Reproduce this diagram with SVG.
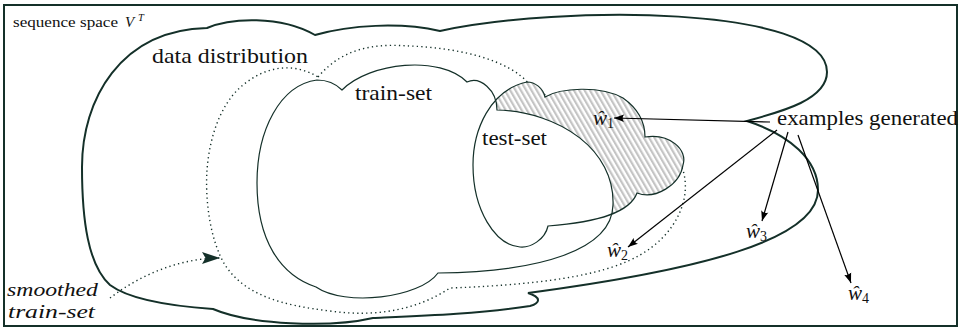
<svg xmlns="http://www.w3.org/2000/svg" width="961" height="329" viewBox="0 0 961 329">
<style>
.frame{fill:none;stroke:#143029;stroke-width:2}
.outer{fill:none;stroke:#143029;stroke-width:2}
.thin{stroke:#143029;stroke-width:1.2}
.dots{fill:none;stroke:#143029;stroke-width:1.4;stroke-dasharray:1.3 3.2}
.lbl{font-family:"Liberation Serif","Times New Roman",serif;font-size:21px;fill:#111}
.it{font-style:italic}
.sm{font-size:18px}
.sub{font-size:14px;font-style:normal}
.arr{fill:none;stroke:#000;stroke-width:1.2}
</style>
<defs>
<pattern id="hatch" patternUnits="userSpaceOnUse" width="4.6" height="10" patternTransform="rotate(-30)">
<rect width="4.6" height="10" fill="#fff"/>
<rect width="2.2" height="10" fill="#c4c4c4"/>
</pattern>
<marker id="ah" markerUnits="userSpaceOnUse" markerWidth="11" markerHeight="9" refX="10" refY="4.5" orient="auto">
<path d="M0,0.8 L10,4.5 L0,8.2 Q2.8,4.5 0,0.8 Z" fill="#000"/>
</marker>
<marker id="big" markerUnits="userSpaceOnUse" markerWidth="20" markerHeight="13" refX="18" refY="6.5" orient="auto">
<path d="M0,0.5 L18,6.5 L0,12.5 L3.5,6.5 Z" fill="#143029"/>
</marker>
</defs>
<rect width="961" height="329" fill="#fff"/>
<g id="frame"><rect class="frame" x="4" y="5" width="953" height="321"/></g>
<g id="sequence-space">
<path class="outer" d="M 440,31 C 560,5 827,5 827,72 C 827,100 780,112 747,121 C 790,135 818,160 818,190 C 818,240 700,270 528,293 C 541,297 541,303 530,306 C 480,314 420,316 373,318 C 330,328 250,325 213,309 C 170,306 130,300 110,285 C 88,265 82,220 82,167 C 82,100 120,30 207,28 C 230,18 280,15 315,35 C 350,25 400,22 440,31 Z"/>
</g>
<g id="data-distribution">
<path class="dots" d="M 318,77 C 345,45 380,44 410,46 C 460,48 510,60 530,85 C 560,110 660,130 683,170 C 692,200 675,235 640,255 C 610,272 560,284 450,288 C 420,308 380,318 330,311 C 280,305 245,295 225,265 C 210,240 205,200 207,170 C 210,130 225,95 250,80 C 270,66 295,63 318,77 Z"/>
</g>
<g id="test-set-fill">
<path fill="url(#hatch)" stroke="none" d="M 545,97 C 560,88 600,85 623,98 C 640,110 645,125 645,137 C 670,133 688,150 683,165 C 680,185 655,200 637,193 C 630,212 600,222 548,226 C 545,240 530,248 520,247 C 495,245 473,210 473,165 C 473,130 490,90 527,82 C 535,82 543,88 545,97 Z"/>
</g>
<g id="train-set">
<path class="thin" fill="#fff" d="M 342,90 C 370,62 440,55 467,82 C 480,76 497,90 497,110 C 560,112 615,150 613,205 C 612,250 540,272 438,273 C 420,298 345,307 316,287 C 280,275 257,240 257,183 C 257,130 280,85 317,80 C 327,80 335,83 342,90 Z"/>
</g>
<g id="test-set">
<path class="thin" fill="none" d="M 545,97 C 560,88 600,85 623,98 C 640,110 645,125 645,137 C 670,133 688,150 683,165 C 680,185 655,200 637,193 C 630,212 600,222 548,226 C 545,240 530,248 520,247 C 495,245 473,210 473,165 C 473,130 490,90 527,82 C 535,82 543,88 545,97 Z"/>
</g>
<g id="connectors">
<path class="arr" d="M 770,122 L 614,118" marker-end="url(#ah)"/>
<path class="arr" d="M 777,130 L 628,247" marker-end="url(#ah)"/>
<path class="arr" d="M 788,132 L 762,221" marker-end="url(#ah)"/>
<path class="arr" d="M 798,135 L 851,283" marker-end="url(#ah)"/>
<path class="dots" d="M 110,298 C 140,275 180,258 220,258" marker-end="url(#big)"/>
</g>
<g id="labels">
<text class="lbl" x="13" y="27" style="font-size:15px" textLength="105" lengthAdjust="spacingAndGlyphs">sequence space</text>
<text class="lbl it" x="125" y="27" style="font-size:15px">V</text>
<text class="lbl it" x="138" y="21" style="font-size:10.5px">T</text>
<text class="lbl" x="152" y="63" textLength="156" lengthAdjust="spacingAndGlyphs">data distribution</text>
<text class="lbl" x="355" y="100" textLength="77" lengthAdjust="spacingAndGlyphs">train-set</text>
<text class="lbl" x="482" y="145" textLength="65" lengthAdjust="spacingAndGlyphs">test-set</text>
<text class="lbl" x="777" y="125" textLength="181" lengthAdjust="spacingAndGlyphs">examples generated</text>
<text class="lbl it sm" x="7" y="296" textLength="91" lengthAdjust="spacingAndGlyphs">smoothed</text>
<text class="lbl it sm" x="8" y="318" textLength="87" lengthAdjust="spacingAndGlyphs">train-set</text>
<text class="lbl" x="593" y="125"><tspan class="it">ŵ</tspan><tspan class="sub" dy="3">1</tspan></text>
<text class="lbl" x="607" y="257"><tspan class="it">ŵ</tspan><tspan class="sub" dy="3">2</tspan></text>
<text class="lbl" x="746" y="238"><tspan class="it">ŵ</tspan><tspan class="sub" dy="3">3</tspan></text>
<text class="lbl" x="848" y="300"><tspan class="it">ŵ</tspan><tspan class="sub" dy="3">4</tspan></text>
</g>
</svg>
